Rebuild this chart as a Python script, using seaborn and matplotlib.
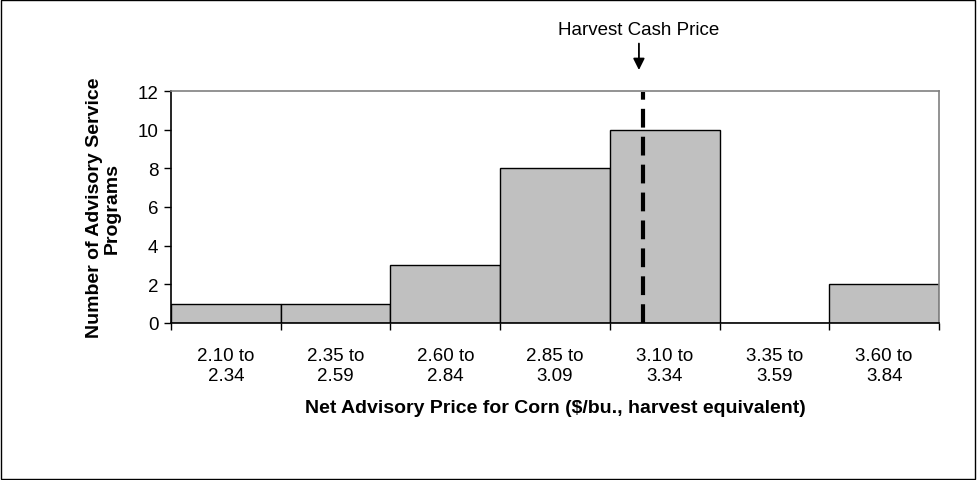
import matplotlib
matplotlib.use("Agg")
import matplotlib.pyplot as plt
import seaborn as sns
import pandas as pd
from matplotlib.patches import Rectangle

# ---- data ----
categories = ["2.10 to\n2.34", "2.35 to\n2.59", "2.60 to\n2.84", "2.85 to\n3.09",
              "3.10 to\n3.34", "3.35 to\n3.59", "3.60 to\n3.84"]
counts = [1, 1, 3, 8, 10, 0, 2]
bin_start = 2.10
bin_width = 0.25
harvest_cash_price = 3.175
y_ticks = [0, 2, 4, 6, 8, 10, 12]

sns.set_theme(style="white")
plt.rcParams["font.family"] = ["Liberation Sans", "DejaVu Sans"]

TICK_FS = 13.5
LABEL_FS = 14

fig = plt.figure(figsize=(9.77, 4.81), dpi=100)
ax = fig.add_axes([171/977, 1-324/481, 768/977, 232/481])

df = pd.DataFrame({"cat": categories, "count": counts})
sns.barplot(data=df, x="cat", y="count", ax=ax, color="#C0C0C0", saturation=1,
            width=1.0, edgecolor="black", linewidth=1.0)

ax.set_ylim(0, 12)
ax.set_xlim(-0.5, len(categories) - 0.5)
ax.set_yticks(y_ticks)
ax.set_yticklabels([str(t) for t in y_ticks])

# x ticks: labels at centers, tick marks at boundaries
ax.set_xticks(range(len(categories)), minor=True)
ax.set_xticklabels(categories, minor=True, linespacing=1.1)
ax.set_xticks([i - 0.5 for i in range(len(categories) + 1)])
ax.set_xticklabels([])
ax.tick_params(axis="x", which="minor", length=0, pad=17.5, labelsize=TICK_FS, labelcolor="black")
ax.tick_params(axis="x", which="major", direction="out", length=5, width=1, color="black", bottom=True)
ax.tick_params(axis="y", direction="out", length=5, width=1, color="black", left=True, pad=4,
               labelsize=TICK_FS, labelcolor="black")

for s in ["left", "bottom"]:
    ax.spines[s].set_color("black")
    ax.spines[s].set_linewidth(1.2)
for s in ["top", "right"]:
    ax.spines[s].set_color("#808080")
    ax.spines[s].set_linewidth(1.2)

ax.set_xlabel("Net Advisory Price for Corn (\\$/bu., harvest equivalent)",
              fontsize=LABEL_FS, fontweight="bold", color="black", va="center")
ax.xaxis.set_label_coords(0.5, (324-409)/232)
ax.set_ylabel("Number of Advisory Service\nPrograms", fontsize=LABEL_FS, fontweight="bold",
              color="black", va="center", linespacing=1.05)
ax.yaxis.set_label_coords((103-171)/768, 0.5)

# harvest cash price line
hx = (harvest_cash_price - bin_start) / bin_width - 0.5
ax.axvline(hx, ymin=0, ymax=0.995, color="black", lw=3, linestyle=(0, (4.5, 2.2)), zorder=5)

ax.annotate("Harvest Cash Price", xy=(hx - 0.035, (324-71)/232), xycoords=("data", "axes fraction"),
            xytext=(hx - 0.035, (324-30)/232), textcoords=("data", "axes fraction"),
            ha="center", va="center", fontsize=TICK_FS, color="black",
            arrowprops=dict(arrowstyle="-|>", color="black", lw=1.3, mutation_scale=17,
                            shrinkA=2, shrinkB=0),
            annotation_clip=False)

fig.patches.append(Rectangle((0.001, 0.002), 0.997, 0.996, transform=fig.transFigure,
                             fill=False, edgecolor="black", lw=1.0))

fig.savefig("out.png", dpi=100)
